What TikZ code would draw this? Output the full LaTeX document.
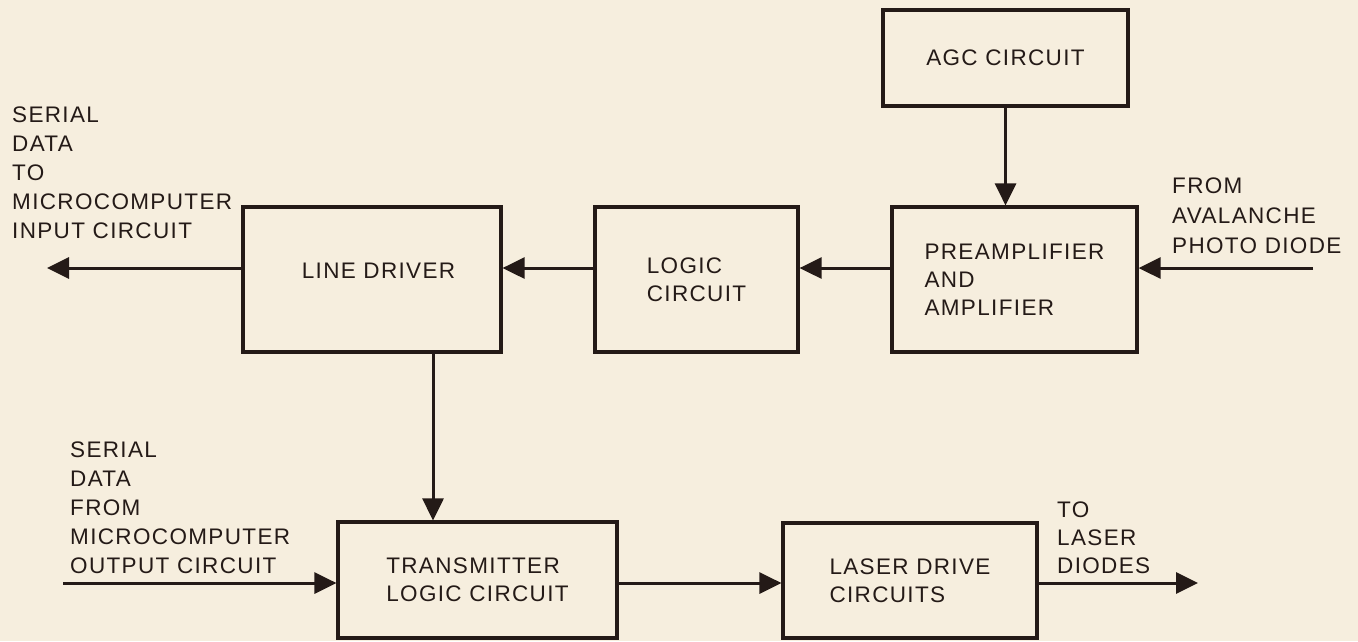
\documentclass[tikz,border=0pt]{standalone}
\usepackage{fontspec}
\setmainfont{Liberation Sans}[LetterSpace=6]
\usetikzlibrary{arrows.meta}
\definecolor{paper}{HTML}{F6EEDE}
\definecolor{ink}{HTML}{241A17}
\tikzset{
  blk/.style={draw=ink, line width=3.2pt, inner sep=0pt, align=left, text=ink},
  conn/.style={draw=ink, line width=3pt, -{Triangle[length=22pt,width=21pt]}},
  lbl/.style={inner sep=0pt, anchor=north west, align=left, text=ink,
    font=\fontsize{22.5}{29}\selectfont},
}
\begin{document}
\begin{tikzpicture}[x=1pt,y=-1pt,font=\fontsize{22.5}{28}\selectfont]
\useasboundingbox[fill=paper] (0,0) rectangle (1358,641);
% blocks
\node[blk, minimum width=245pt, minimum height=96pt] (agc) at (1005.5,58) {AGC CIRCUIT};
\node[blk, minimum width=245pt, minimum height=145pt] (pre) at (1014.5,279.5) {PREAMPLIFIER\\AND\\AMPLIFIER};
\node[blk, minimum width=203pt, minimum height=145pt] (logic) at (696.5,279.5) {LOGIC\\CIRCUIT};
\node[blk, minimum width=258pt, minimum height=145pt] (line) at (372,279.5) {\hspace*{13pt}\raisebox{18pt}{LINE DRIVER}};
\node[blk, minimum width=279pt, minimum height=116pt] (tx) at (477.5,580) {TRANSMITTER\\LOGIC CIRCUIT};
\node[blk, minimum width=254pt, minimum height=115pt] (laser) at (910,580.5) {LASER DRIVE\\CIRCUITS};
% helper coordinates
\coordinate (rowy) at (0,268);
\coordinate (rowb) at (0,583);
\coordinate (vx) at (433,0);
\coordinate (outL) at (47,268);
\coordinate (inR) at (1313,268);
\coordinate (inL) at (63,583);
\coordinate (outR) at (1198,583);
% connectors
\draw[conn] (agc.south) -- (agc.south |- pre.north);
\draw[conn] (pre.west |- rowy) -- (logic.east |- rowy);
\draw[conn] (logic.west |- rowy) -- (line.east |- rowy);
\draw[conn] (line.west |- rowy) -- (outL);
\draw[conn] (inR) -- (pre.east |- rowy);
\draw[conn] (line.south -| vx) -- (tx.north -| vx);
\draw[conn] (inL) -- (tx.west |- rowb);
\draw[conn] (tx.east |- rowb) -- (laser.west |- rowb);
\draw[conn] (laser.east |- rowb) -- (outR);
% labels
\node[lbl] (lto) at (12,107) {SERIAL\\DATA\\TO\\MICROCOMPUTER\\INPUT CIRCUIT};
\node[lbl] (lfrom) at (70,442) {SERIAL\\DATA\\FROM\\MICROCOMPUTER\\OUTPUT CIRCUIT};
\node[lbl, font=\fontsize{22.5}{28}\selectfont] (llaser) at (1057,502) {TO\\LASER\\DIODES};
\node[lbl, font=\fontsize{22.5}{30}\selectfont] (lapd) at (1172,178) {FROM\\AVALANCHE\\PHOTO DIODE};
\end{tikzpicture}
\end{document}
